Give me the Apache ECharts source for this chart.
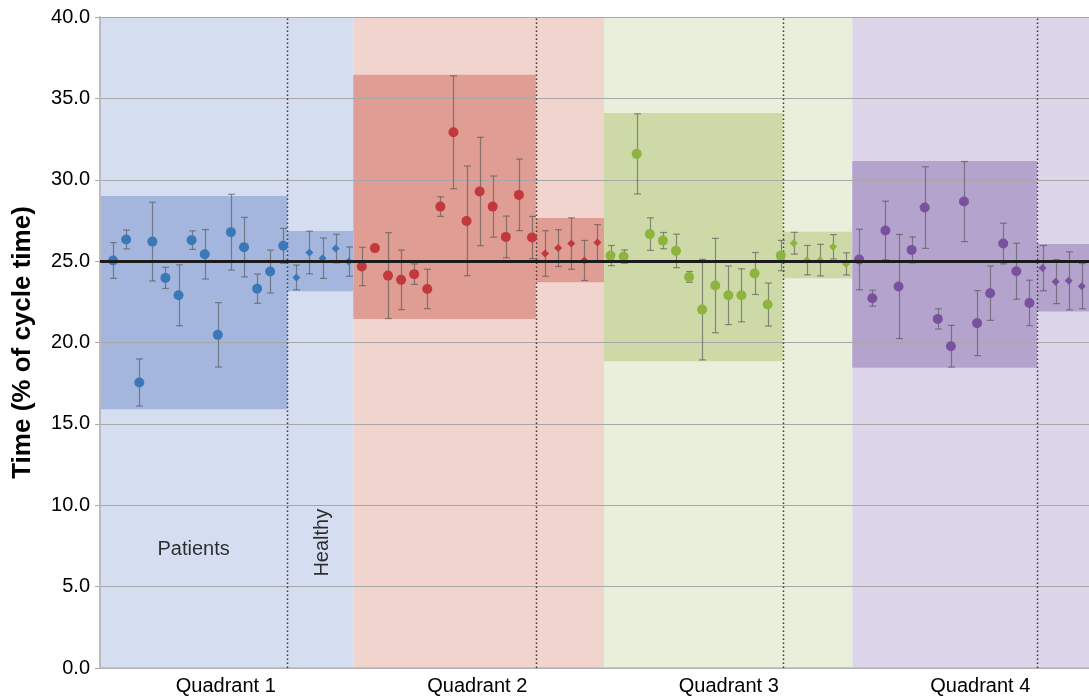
<!DOCTYPE html>
<html><head><meta charset="utf-8">
<script src="https://cdn.jsdelivr.net/npm/echarts@6/dist/echarts.min.js"></script>
<style>html,body{margin:0;padding:0;background:#fff;overflow:hidden;width:1089px;height:698px}#c{width:1120px;height:698px}</style>
</head><body><div id="c"></div>
<script>
// ---------------- DATA ----------------
const quadrantNames = ['Quadrant 1', 'Quadrant 2', 'Quadrant 3', 'Quadrant 4'];
const groupLabels = ['Patients', 'Healthy'];
const referenceValue = 25;
const yAxisTitle = 'Time (% of cycle time)';

const q1PatientMean = [25.04, 26.33, 17.54, 26.2, 23.97, 22.9, 26.29, 25.42, 20.47, 26.78, 25.86, 23.31, 24.36, 25.94];
const q1PatientErr  = [1.1, 0.58, 1.45, 2.42, 0.65, 1.87, 0.57, 1.52, 1.98, 2.33, 1.83, 0.9, 1.32, 1.07];
const q1HealthyMean = [24.0, 25.53, 25.18, 25.77, 24.97];
const q1HealthyErr  = [0.76, 1.31, 1.24, 0.88, 0.9];

const q2PatientMean = [24.67, 25.8, 24.11, 23.85, 24.2, 23.29, 28.35, 32.92, 27.47, 29.28, 28.35, 26.49, 29.07, 26.45];
const q2PatientErr  = [1.18, 0.15, 2.64, 1.83, 0.63, 1.21, 0.6, 3.47, 3.37, 3.33, 1.88, 1.28, 2.2, 1.3];
const q2HealthyMean = [25.47, 25.8, 26.08, 25.04, 26.14];
const q2HealthyErr  = [1.4, 1.13, 1.58, 1.23, 1.1];

const q3PatientMean = [25.34, 25.28, 31.59, 26.66, 26.26, 25.63, 24.03, 22.02, 23.5, 22.9, 22.9, 24.24, 22.33, 25.34];
const q3PatientErr  = [0.62, 0.41, 2.46, 1.0, 0.5, 1.03, 0.33, 3.09, 2.9, 1.8, 1.63, 1.29, 1.32, 0.93];
const q3HealthyMean = [26.1, 25.06, 25.06, 25.88, 24.83];
const q3HealthyErr  = [0.67, 0.9, 0.97, 0.75, 0.68];

const q4PatientMean = [25.1, 22.72, 26.88, 23.44, 25.69, 28.29, 21.45, 19.77, 28.66, 21.19, 23.03, 26.08, 24.38, 22.43];
const q4PatientErr  = [1.86, 0.49, 1.8, 3.2, 0.8, 2.51, 0.62, 1.28, 2.46, 2.0, 1.67, 1.25, 1.72, 1.4];
const q4HealthyMean = [24.57, 23.74, 23.79, 23.46, null];
const q4HealthyErr  = [1.39, 1.35, 1.78, 1.39, null];

// range bands (low / high) per quadrant
const patientBandLow  = [15.9, 21.45, 18.85, 18.45];
const patientBandHigh = [29.0, 36.45, 34.1, 31.15];
const healthyBandLow  = [23.15, 23.7, 23.95, 21.9];
const healthyBandHigh = [26.85, 27.65, 26.8, 26.05];

// ---------------- LAYOUT / STYLE ----------------
const FONT = "'Liberation Sans', Arial, Helvetica, sans-serif";
const X_MAX = 76.85;
const PER_Q = 19;
const quadStart = [0, 19.35, 38.5, 57.47];
const quadEnd   = [19.35, 38.5, 57.47, X_MAX];
const divider   = [14.32, 33.29, 52.16, 71.57];
const bgColors   = ['#d5ddf0', '#f2d4cf', '#e8efda', '#ddd6ea'];
const bandColors = ['#a4b6de', '#df9d93', '#cddaa7', '#b4a4cd'];
const dotColors  = ['#3b78b8', '#c0393c', '#8db43f', '#7a519f'];

const groups = [
  [q1PatientMean, q1PatientErr, q1HealthyMean, q1HealthyErr],
  [q2PatientMean, q2PatientErr, q2HealthyMean, q2HealthyErr],
  [q3PatientMean, q3PatientErr, q3HealthyMean, q3HealthyErr],
  [q4PatientMean, q4PatientErr, q4HealthyMean, q4HealthyErr]
];

// rectangles: [x0, x1, y0, y1], with fill
const rects = [], rectFill = [];
for (let q = 0; q < 4; q++) {
  rects.push([quadStart[q], quadEnd[q], 0, 40]); rectFill.push(bgColors[q]);
  rects.push([quadStart[q], divider[q], patientBandLow[q], patientBandHigh[q]]); rectFill.push(bandColors[q]);
  rects.push([divider[q], quadEnd[q], healthyBandLow[q], healthyBandHigh[q]]); rectFill.push(bandColors[q]);
}

const errData = [];
const pointSeries = [];
for (let q = 0; q < 4; q++) {
  const [pm, pe, hm, he] = groups[q];
  const pData = [], hData = [];
  pm.forEach((m, j) => {
    const x = q * PER_Q + j + 1;
    pData.push([x, m]);
    errData.push([x, m, pe[j]]);
  });
  hm.forEach((m, k) => {
    if (m == null) return;
    const x = q * PER_Q + 15 + k;
    hData.push([x, m]);
    errData.push([x, m, he[k]]);
  });
  pointSeries.push({
    type: 'scatter', z: 4, data: pData, symbol: 'circle', symbolSize: 10,
    itemStyle: { color: dotColors[q], opacity: 1 }, silent: true, animation: false
  });
  pointSeries.push({
    type: 'scatter', z: 4, data: hData, symbol: 'diamond', symbolSize: 8,
    itemStyle: { color: dotColors[q], opacity: 1 }, silent: true, animation: false
  });
}

const chart = echarts.init(document.getElementById('c'), null, { renderer: 'canvas', width: 1120, height: 698 });
chart.setOption({
  animation: false,
  textStyle: { fontFamily: FONT },
  grid: { left: 100, width: 1006, top: 17, bottom: 30, containLabel: false, outerBoundsMode: 'none' },
  xAxis: [
    { type: 'value', min: 0, max: X_MAX, z: 1,
      axisLabel: { show: false }, axisTick: { show: false }, splitLine: { show: false },
      axisLine: { show: true, lineStyle: { color: '#b8b8b8', width: 1.5 } } },
    { type: 'category', data: quadrantNames, position: 'bottom', z: 1,
      axisLine: { show: false }, axisTick: { show: false }, splitLine: { show: false },
      axisLabel: { fontSize: 20, color: '#000', margin: 8, fontFamily: FONT } }
  ],
  yAxis: {
    type: 'value', min: 0, max: 40, interval: 5, z: 1,
    name: yAxisTitle, nameLocation: 'middle', nameGap: 64,
    nameTextStyle: { fontSize: 26, fontWeight: 'bold', color: '#000', fontFamily: FONT },
    axisLabel: { formatter: v => v.toFixed(1), fontSize: 20, color: '#000', margin: 10, fontFamily: FONT },
    axisTick: { show: true, length: 5, lineStyle: { color: '#a8a8a8' } },
    axisLine: { show: true, lineStyle: { color: '#bcbcbc', width: 2 } },
    splitLine: { show: true, lineStyle: { color: '#a8a8a8', width: 1 } }
  },
  series: [
    { type: 'custom', z: 0, silent: true, data: rects,
      encode: { x: [0, 1], y: [2, 3] },
      renderItem: (params, api) => {
        const p0 = api.coord([api.value(0), api.value(3)]);
        const p1 = api.coord([api.value(1), api.value(2)]);
        return { type: 'rect', shape: { x: p0[0], y: p0[1], width: p1[0] - p0[0], height: p1[1] - p0[1] },
                 style: { fill: rectFill[params.dataIndex] } };
      } },
    { type: 'custom', z: 2, silent: true, data: divider.map(d => [d, 0, 40]),
      encode: { x: 0, y: [1, 2] },
      renderItem: (params, api) => {
        const a = api.coord([api.value(0), api.value(1)]);
        const b = api.coord([api.value(0), api.value(2)]);
        const x = Math.round(a[0]) + 0.5;
        return { type: 'line', shape: { x1: x, y1: a[1], x2: x, y2: b[1] },
                 style: { stroke: '#3a3a3a', lineWidth: 1.5, lineDash: [1.5, 2.5] } };
      } },
    { type: 'custom', z: 3, silent: true, data: errData,
      encode: { x: 0, y: 1 },
      renderItem: (params, api) => {
        const x = api.value(0), m = api.value(1), e = api.value(2);
        const top = api.coord([x, m + e]);
        const bot = api.coord([x, m - e]);
        const cx = Math.round(top[0]) + 0.5;
        const st = { stroke: 'rgba(80,80,80,0.6)', lineWidth: 1.2 };
        return { type: 'group', children: [
          { type: 'line', shape: { x1: cx, y1: top[1], x2: cx, y2: bot[1] }, style: st },
          { type: 'line', shape: { x1: cx - 3.5, y1: top[1], x2: cx + 3.5, y2: top[1] }, style: st },
          { type: 'line', shape: { x1: cx - 3.5, y1: bot[1], x2: cx + 3.5, y2: bot[1] }, style: st }
        ] };
      } },
    ...pointSeries,
    { type: 'scatter', z: 5, data: [], silent: true,
      markLine: { silent: true, symbol: 'none', animation: false,
        label: { show: false },
        lineStyle: { color: '#1b1b1b', width: 3, type: 'solid' },
        data: [{ yAxis: referenceValue }] } },
    { type: 'scatter', z: 6, silent: true, symbolSize: 0,
      data: [
        { value: [7.15, 7.3], label: { show: true, formatter: groupLabels[0], position: 'inside', fontSize: 20, color: '#000', fontFamily: FONT } },
        { value: [17.0, 7.7], label: { show: true, formatter: groupLabels[1], position: 'inside', rotate: 90, fontSize: 20, color: '#000', fontFamily: FONT } }
      ] }
  ]
});
</script>
</body></html>
